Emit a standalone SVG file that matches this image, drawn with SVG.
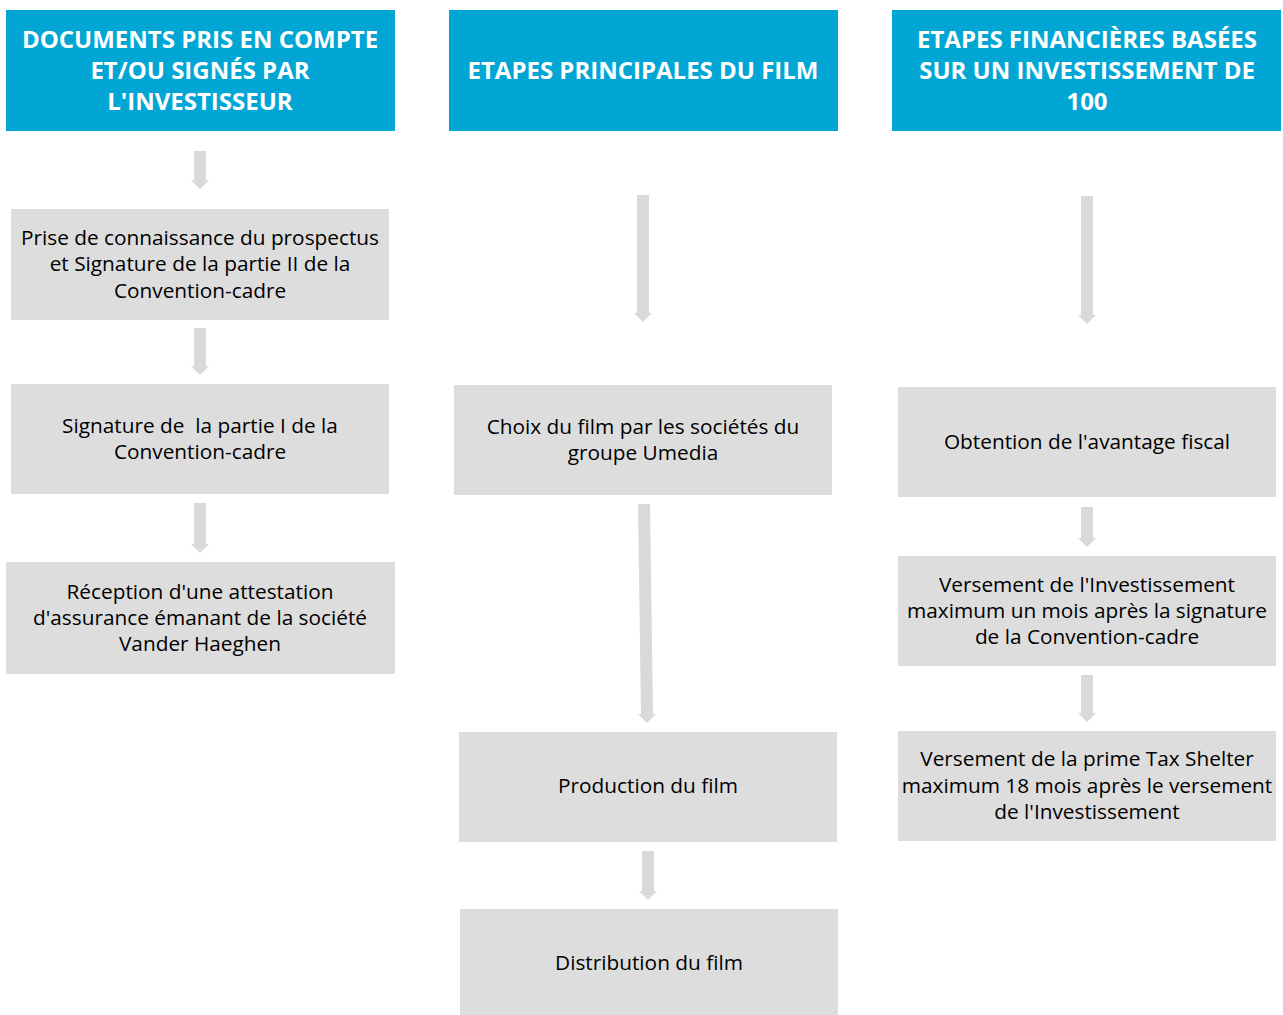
<svg xmlns="http://www.w3.org/2000/svg" width="1283" height="1015" viewBox="0 0 1283 1015">
<style>
.hdr{fill:#02a6d5}
.hdr-t{font-family:"Open Sans","Liberation Sans",sans-serif;font-weight:bold;font-size:24px;fill:#ffffff;text-anchor:middle}
.box{fill:#dddddd}
.box-t{font-family:"Open Sans","Liberation Sans",sans-serif;font-size:20.8px;fill:#000000;text-anchor:middle}
.arr{fill:#d9d9d9}
</style>
<rect width="1283" height="1015" fill="#ffffff"/>
<g id="h1"><rect class="hdr" x="6" y="10" width="389" height="121"/>
<text class="hdr-t" x="200"><tspan x="200" y="48">DOCUMENTS PRIS EN COMPTE</tspan><tspan x="200" y="79">ET/OU SIGNÉS PAR</tspan><tspan x="200" y="110">L'INVESTISSEUR</tspan></text></g>
<g id="h2"><rect class="hdr" x="449" y="10" width="389" height="121"/>
<text class="hdr-t" x="643" y="79">ETAPES PRINCIPALES DU FILM</text></g>
<g id="h3"><rect class="hdr" x="892" y="10" width="389" height="121"/>
<text class="hdr-t" x="1087"><tspan x="1087" y="48">ETAPES FINANCIÈRES BASÉES</tspan><tspan x="1087" y="79">SUR UN INVESTISSEMENT DE</tspan><tspan x="1087" y="110">100</tspan></text></g>

<g id="c1b1"><rect class="box" x="11" y="209" width="378" height="111"/>
<text class="box-t"><tspan x="200" y="245">Prise de connaissance du prospectus</tspan><tspan x="200" y="271">et Signature de la partie II de la</tspan><tspan x="200" y="298">Convention-cadre</tspan></text></g>
<g id="c1b2"><rect class="box" x="11" y="384" width="378" height="110"/>
<text class="box-t" xml:space="preserve"><tspan x="200" y="433">Signature de  la partie I de la</tspan><tspan x="200" y="459">Convention-cadre</tspan></text></g>
<g id="c1b3"><rect class="box" x="6" y="562" width="389" height="112"/>
<text class="box-t"><tspan x="200" y="599">Réception d'une attestation</tspan><tspan x="200" y="625">d'assurance émanant de la société</tspan><tspan x="200" y="651">Vander Haeghen</tspan></text></g>

<g id="c2b1"><rect class="box" x="454" y="385" width="378" height="110"/>
<text class="box-t"><tspan x="643" y="434">Choix du film par les sociétés du</tspan><tspan x="643" y="460">groupe Umedia</tspan></text></g>
<g id="c2b2"><rect class="box" x="459" y="732" width="378" height="110"/>
<text class="box-t" x="648" y="793">Production du film</text></g>
<g id="c2b3"><rect class="box" x="460" y="909" width="378" height="106"/>
<text class="box-t" x="649" y="970">Distribution du film</text></g>

<g id="c3b1"><rect class="box" x="898" y="387" width="378" height="110"/>
<text class="box-t" x="1087" y="449">Obtention de l'avantage fiscal</text></g>
<g id="c3b2"><rect class="box" x="898" y="556" width="378" height="110"/>
<text class="box-t"><tspan x="1087" y="592">Versement de l'Investissement</tspan><tspan x="1087" y="618">maximum un mois après la signature</tspan><tspan x="1087" y="644">de la Convention-cadre</tspan></text></g>
<g id="c3b3"><rect class="box" x="898" y="731" width="378" height="110"/>
<text class="box-t"><tspan x="1087" y="766">Versement de la prime Tax Shelter</tspan><tspan x="1087" y="793">maximum 18 mois après le versement</tspan><tspan x="1087" y="819">de l'Investissement</tspan></text></g>

<g id="connectors">
<polygon class="arr" points="194,151 206,151 206,180 209,180 200,189 191,180 194,180"/>
<polygon class="arr" points="194,328 206,328 206,366 209,366 200,375 191,366 194,366"/>
<polygon class="arr" points="194,503 206,503 206,544 209,544 200,553 191,544 194,544"/>
<polygon class="arr" points="637,195 649,195 649,313 652,313 643,322 634,313 637,313"/>
<polygon class="arr" points="638,504 650,504 653,714 656,714 647,723 638,714 641,714"/>
<polygon class="arr" points="642,851 654,851 654,891 657,891 648,900 639,891 642,891"/>
<polygon class="arr" points="1081,196 1093,196 1093,315 1096,315 1087,324 1078,315 1081,315"/>
<polygon class="arr" points="1081,507 1093,507 1093,538 1096,538 1087,547 1078,538 1081,538"/>
<polygon class="arr" points="1081,675 1093,675 1093,713 1096,713 1087,722 1078,713 1081,713"/>
</g>
</svg>
